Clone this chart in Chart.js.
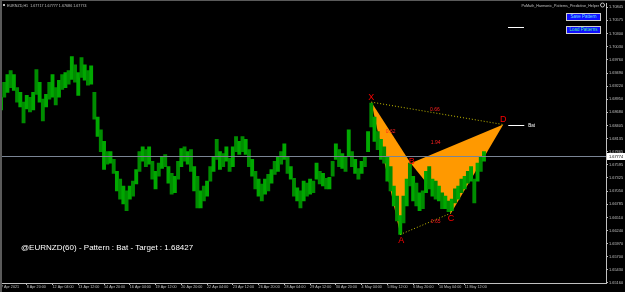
<!DOCTYPE html>
<html>
<head>
<meta charset="utf-8">
<script src="https://cdn.jsdelivr.net/npm/chart.js@4.4.0/dist/chart.umd.min.js"></script>
<style>
    html, body { margin: 0; padding: 0; background: #000; }
    #chart { display: block; }
</style>
</head>
<body>
<canvas id="chart" width="625" height="292"></canvas>
<script>
// Hourly EURNZD, one column = 4 hourly bars
const highs = [
    1.6899, 1.6930, 1.6946, 1.6954, 1.6946, 1.6919, 1.6909, 1.6889, 1.6903, 1.6899,
    1.6909, 1.6956, 1.6930, 1.6895, 1.6905, 1.6930, 1.6946, 1.6919, 1.6934, 1.6946,
    1.6950, 1.6954, 1.6983, 1.6966, 1.6950, 1.6981, 1.6966, 1.6954, 1.6964, 1.6909,
    1.6858, 1.6832, 1.6808, 1.6787, 1.6787, 1.6771, 1.6746, 1.6730, 1.6716, 1.6706,
    1.6716, 1.6726, 1.6750, 1.6787, 1.6797, 1.6791, 1.6797, 1.6767, 1.6746, 1.6763,
    1.6777, 1.6781, 1.6756, 1.6742, 1.6736, 1.6767, 1.6793, 1.6797, 1.6787, 1.6791,
    1.6756, 1.6736, 1.6706, 1.6716, 1.6726, 1.6756, 1.6777, 1.6812, 1.6787, 1.6783,
    1.6797, 1.6773, 1.6797, 1.6818, 1.6808, 1.6818, 1.6812, 1.6791, 1.6771, 1.6746,
    1.6730, 1.6720, 1.6730, 1.6740, 1.6750, 1.6767, 1.6777, 1.6787, 1.6803, 1.6777,
    1.6756, 1.6732, 1.6712, 1.6706, 1.6726, 1.6722, 1.6730, 1.6726, 1.6763, 1.6746,
    1.6742, 1.6732, 1.6734, 1.6767, 1.6803, 1.6791, 1.6783, 1.6777, 1.6832, 1.6787,
    1.6771, 1.6752, 1.6767, 1.6777, 1.6828, 1.6887, 1.6858, 1.6828, 1.6812, 1.6797,
    1.6777, 1.6756, 1.6716, 1.6695, 1.6655, 1.6695, 1.6730, 1.6763, 1.6736, 1.6722,
    1.6702, 1.6706, 1.6746, 1.6756, 1.6730, 1.6726, 1.6716, 1.6702, 1.6695, 1.6685,
    1.6689, 1.6710, 1.6716, 1.6730, 1.6736, 1.6746, 1.6756, 1.6730, 1.6763, 1.6777,
    1.6787
];
const lows = [
    1.6873, 1.6899, 1.6909, 1.6919, 1.6913, 1.6889, 1.6879, 1.6846, 1.6875, 1.6869,
    1.6873, 1.6905, 1.6889, 1.6850, 1.6879, 1.6895, 1.6899, 1.6883, 1.6899, 1.6915,
    1.6919, 1.6926, 1.6936, 1.6930, 1.6903, 1.6940, 1.6934, 1.6924, 1.6926, 1.6854,
    1.6818, 1.6787, 1.6750, 1.6761, 1.6763, 1.6742, 1.6706, 1.6689, 1.6679, 1.6665,
    1.6689, 1.6695, 1.6720, 1.6746, 1.6767, 1.6756, 1.6761, 1.6730, 1.6710, 1.6736,
    1.6752, 1.6756, 1.6722, 1.6699, 1.6702, 1.6730, 1.6756, 1.6767, 1.6761, 1.6746,
    1.6706, 1.6671, 1.6671, 1.6685, 1.6695, 1.6726, 1.6746, 1.6771, 1.6750, 1.6756,
    1.6767, 1.6746, 1.6756, 1.6787, 1.6781, 1.6787, 1.6781, 1.6756, 1.6736, 1.6710,
    1.6695, 1.6685, 1.6699, 1.6706, 1.6722, 1.6740, 1.6746, 1.6761, 1.6771, 1.6742,
    1.6730, 1.6695, 1.6685, 1.6671, 1.6685, 1.6695, 1.6699, 1.6702, 1.6730, 1.6720,
    1.6716, 1.6710, 1.6710, 1.6736, 1.6771, 1.6756, 1.6752, 1.6746, 1.6777, 1.6756,
    1.6742, 1.6730, 1.6742, 1.6756, 1.6787, 1.6838, 1.6808, 1.6791, 1.6771, 1.6763,
    1.6726, 1.6706, 1.6675, 1.6644, 1.6616, 1.6640, 1.6675, 1.6716, 1.6685, 1.6675,
    1.6665, 1.6669, 1.6702, 1.6710, 1.6695, 1.6689, 1.6685, 1.6669, 1.6669, 1.6663,
    1.6665, 1.6681, 1.6689, 1.6702, 1.6710, 1.6722, 1.6726, 1.6681, 1.6726, 1.6746,
    1.6767
];
const barsPerColumn = 4;

const xLabels = ['7 Apr 2021', '8 Apr 20:00', '12 Apr 04:00', '13 Apr 12:00', '14 Apr 20:00',
    '16 Apr 04:00', '19 Apr 12:00', '20 Apr 20:00', '22 Apr 04:00', '23 Apr 12:00',
    '26 Apr 20:00', '28 Apr 04:00', '29 Apr 12:00', '30 Apr 20:00', '4 May 04:00',
    '5 May 12:00', '6 May 20:00', '10 May 04:00', '11 May 12:00'];
const barsPerLabel = 32;

const yTicks = [1.70845, 1.70575, 1.70300, 1.70030, 1.69760, 1.69490, 1.69220, 1.68950,
    1.68680, 1.68405, 1.68135, 1.67865, 1.67595, 1.67325, 1.67050, 1.66785, 1.66510,
    1.66240, 1.65970, 1.65700, 1.65430, 1.65160];

const bidPrice = 1.67774;

// Bat pattern points (bar index, price)
const patternNames = ['X', 'A', 'B', 'C', 'D'];
const patternBars = [460, 496, 509, 559, 624];
const patternPrices = [1.6889, 1.6616, 1.6763, 1.6660, 1.68427];

const ratioTexts = ['0.66', '0.62', '1.94', '0.65'];
const ratioBars = [539, 484, 540, 540];
const ratioPrices = [1.6873, 1.6828, 1.6806, 1.6642];

const FONT = '"Liberation Sans", Arial, sans-serif';

function text(ctx, str, x, y, font, color, align) {
    ctx.font = font;
    ctx.fillStyle = color;
    ctx.textAlign = align || 'left';
    ctx.textBaseline = 'middle';
    ctx.fillText(str, x, y);
}

const mt4Plugin = {
    id: 'mt4',
    beforeDraw(chart) {
        const ctx = chart.ctx;
        ctx.save();
        ctx.fillStyle = '#000';
        ctx.fillRect(0, 0, chart.width, chart.height);
        ctx.restore();
    },
    beforeDatasetsDraw(chart) {
        const { ctx, scales: { x, y } } = chart;
        const px = i => x.getPixelForValue(patternBars[i]);
        const py = i => y.getPixelForValue(patternPrices[i]);
        ctx.save();
        ctx.fillStyle = '#ff9900';
        [[0, 1, 2], [2, 3, 4]].forEach(tri => {
            ctx.beginPath();
            tri.forEach((k, j) => j ? ctx.lineTo(px(k), py(k)) : ctx.moveTo(px(k), py(k)));
            ctx.closePath();
            ctx.fill();
        });
        ctx.restore();
    },
    afterDatasetsDraw(chart) {
        const { ctx, chartArea, scales: { x, y } } = chart;
        const px = i => x.getPixelForValue(patternBars[i]);
        const py = i => y.getPixelForValue(patternPrices[i]);
        ctx.save();

        // bid line
        const by = Math.round(y.getPixelForValue(bidPrice)) + 0.5;
        ctx.strokeStyle = '#7a8494';
        ctx.lineWidth = 1;
        ctx.beginPath();
        ctx.moveTo(0, by);
        ctx.lineTo(chartArea.right, by);
        ctx.stroke();

        // dotted X-D and A-C
        ctx.strokeStyle = '#c8c000';
        ctx.setLineDash([1, 2]);
        [[0, 4], [1, 3]].forEach(([a, b]) => {
            ctx.beginPath();
            ctx.moveTo(px(a), py(a));
            ctx.lineTo(px(b), py(b));
            ctx.stroke();
        });
        ctx.setLineDash([]);

        // point letters
        const offs = [[0, -5], [1, 6], [1, -2], [0, 5], [0, -5]];
        patternNames.forEach((n, i) => {
            text(ctx, n, px(i) + offs[i][0], py(i) + offs[i][1], '9px ' + FONT, '#ff0000', 'center');
        });

        // ratios
        ratioTexts.forEach((t, i) => {
            text(ctx, t, x.getPixelForValue(ratioBars[i]), y.getPixelForValue(ratioPrices[i]),
                '5px ' + FONT, '#ff2020', 'center');
        });

        // "Bat" marker at D
        const dy = Math.round(py(4)) + 0.5;
        ctx.strokeStyle = '#ffffff';
        ctx.beginPath();
        ctx.moveTo(px(4) + 5, dy);
        ctx.lineTo(px(4) + 21, dy);
        ctx.stroke();
        text(ctx, 'Bat', px(4) + 25, dy, '4.5px ' + FONT, '#ffffff');

        // short white object top right
        ctx.beginPath();
        ctx.moveTo(508, 27.5);
        ctx.lineTo(524, 27.5);
        ctx.stroke();

        text(ctx, '@EURNZD(60) - Pattern : Bat - Target : ' + patternPrices[4].toFixed(5),
            21, 248, '8px ' + FONT, '#ffffff');
        ctx.restore();
    },
    afterDraw(chart) {
        const { ctx, scales: { y } } = chart;
        ctx.save();
        // window frame
        ctx.fillStyle = '#5a5a5a';
        ctx.fillRect(0, 0, chart.width, 1);
        ctx.fillRect(0, 0, 2, chart.height);

        // title
        ctx.fillStyle = '#c0c0c0';
        ctx.fillRect(3, 4, 2, 2);
        text(ctx, 'EURNZD,H1  1.67717 1.67777 1.67686 1.67774', 7, 5.5, '3.7px ' + FONT, '#c0c0c0');
        text(ctx, 'PoMath_Harmonic_Patterns_Predictive_Helper', 599, 5.5, '3.7px ' + FONT, '#c0c0c0', 'right');
        ctx.strokeStyle = '#c0c0c0';
        ctx.beginPath();
        ctx.arc(602.5, 5, 2, 0, Math.PI * 2);
        ctx.stroke();

        // buttons
        [['Save Pattern', 13, '#60e0ff'], ['Load Patterns', 26, '#40ffa0']].forEach(([label, top, col]) => {
            ctx.fillStyle = '#1010ff';
            ctx.fillRect(566, top, 35, 8);
            ctx.strokeStyle = '#d0d0d0';
            ctx.strokeRect(566.5, top + 0.5, 34, 7);
            text(ctx, label, 583.5, top + 4.2, '4.5px ' + FONT, col, 'center');
        });

        // current price box
        const by = y.getPixelForValue(bidPrice);
        ctx.fillStyle = '#ffffff';
        ctx.fillRect(607, Math.round(by) - 3, 18, 7);
        text(ctx, bidPrice.toFixed(5), 609, by + 0.5, '3.9px ' + FONT, '#000000');
        ctx.restore();
    }
};

const ctx = document.getElementById('chart').getContext('2d');
new Chart(ctx, {
    type: 'bar',
    data: {
        datasets: [{
            data: highs.map((h, i) => ({ x: i * barsPerColumn, y: [lows[i], h] })),
            backgroundColor: highs.map((h, i) => i % 2 ? '#008c00' : '#00a800'),
            borderWidth: 0,
            barPercentage: 1,
            categoryPercentage: 1
        }]
    },
    options: {
        responsive: false,
        animation: false,
        devicePixelRatio: 1,
        layout: { padding: { left: 1, top: 0, right: 0, bottom: 0 } },
        plugins: { legend: { display: false }, tooltip: { enabled: false } },
        scales: {
            x: {
                type: 'linear',
                offset: false,
                min: 0,
                max: 751.6,
                afterBuildTicks: scale => {
                    scale.ticks = xLabels.map((_, i) => ({ value: i * barsPerLabel }));
                },
                afterFit: scale => { scale.height = 9; },
                ticks: {
                    autoSkip: false,
                    maxRotation: 0,
                    minRotation: 0,
                    align: 'start',
                    padding: 0,
                    color: '#c0c0c0',
                    font: { family: FONT, size: 3.7 },
                    callback: (v, i) => xLabels[i]
                },
                grid: { offset: false, drawOnChartArea: false, drawTicks: true, tickLength: 2, color: '#c0c0c0' },
                border: { display: true, color: '#c0c0c0' }
            },
            y: {
                position: 'right',
                min: 1.65159,
                max: 1.70927,
                afterBuildTicks: scale => {
                    scale.ticks = yTicks.map(v => ({ value: v }));
                },
                afterFit: scale => { scale.width = 19; },
                ticks: {
                    autoSkip: false,
                    padding: 1,
                    color: '#c0c0c0',
                    font: { family: FONT, size: 3.9 },
                    callback: v => v.toFixed(5)
                },
                grid: { drawOnChartArea: false, drawTicks: true, tickLength: 2, color: '#c0c0c0' },
                border: { display: true, color: '#c0c0c0' }
            }
        }
    },
    plugins: [mt4Plugin]
});
</script>
</body>
</html>
